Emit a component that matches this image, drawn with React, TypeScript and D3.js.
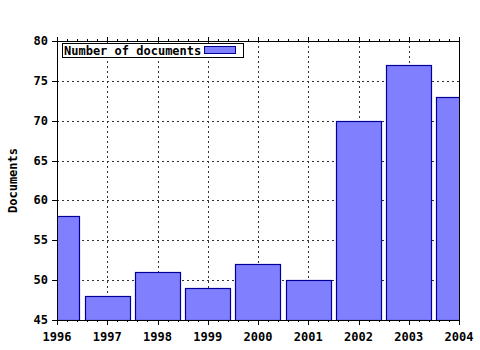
import React from "react";
import * as d3 from "d3";

const years = [1996, 1997, 1998, 1999, 2000, 2001, 2002, 2003, 2004];
const documents = [58, 48, 51, 49, 52, 50, 70, 77, 73];
const yTicks = [45, 50, 55, 60, 65, 70, 75, 80];
const seriesName = "Number of documents";
const yTitle = "Documents";

export default function App() {
  const W = 480, H = 350;
  const L = 57, R = 459, T = 41, B = 320;
  const x = d3.scaleLinear().domain([1996, 2004]).range([L, R]);
  const y = d3.scaleLinear().domain([45, 80]).range([B, T]);
  const step = x(1997) - x(1996);
  const bw = step * 0.9;
  const font = "'DejaVu Sans Mono', monospace";
  const minor: number[] = [];
  for (let i = 0; i < years.length - 1; i++) {
    for (let k = 1; k < 5; k++) minor.push(years[i] + k / 5);
  }
  return (
    <svg width={W} height={H} style={{ position: "absolute", left: 0, top: 0, background: "#fff" }}>
      <defs>
        <clipPath id="plot">
          <rect x={L} y={T} width={R - L} height={B - T} />
        </clipPath>
      </defs>
      <rect width={W} height={H} fill="#fff" />
      {/* grid */}
      {yTicks.slice(1, -1).map((v) => (
        <line key={"gy" + v} x1={L} x2={R} y1={Math.round(y(v)) + 0.5} y2={Math.round(y(v)) + 0.5}
          stroke="#333" strokeDasharray="2,3" />
      ))}
      {years.slice(1, -1).map((v) => (
        <line key={"gx" + v} x1={Math.round(x(v)) + 0.5} x2={Math.round(x(v)) + 0.5} y1={T} y2={B}
          stroke="#333" strokeDasharray="2,3" />
      ))}
      {/* bars */}
      <g clipPath="url(#plot)">
        {years.map((yr, i) => (
          <rect key={yr} x={Math.round(x(yr) - bw / 2) + 0.5} y={Math.round(y(documents[i])) + 0.5}
            width={Math.round(bw)} height={B - Math.round(y(documents[i]))}
            fill="#8080ff" stroke="#000099" strokeWidth={1.2} />
        ))}
      </g>
      {/* frame */}
      <rect x={L + 0.5} y={T + 0.5} width={R - L} height={B - T} fill="none" stroke="#000" />
      {/* x ticks */}
      {years.map((v) => (
        <g key={"tx" + v}>
          <line x1={Math.round(x(v)) + 0.5} x2={Math.round(x(v)) + 0.5} y1={B} y2={B + 5} stroke="#000" />
          <line x1={Math.round(x(v)) + 0.5} x2={Math.round(x(v)) + 0.5} y1={T} y2={T - 4} stroke="#000" />
          <text x={x(v)} y={B + 21} textAnchor="middle" fontFamily={font} fontWeight="bold" fontSize={12}>{v}</text>
        </g>
      ))}
      {minor.map((v, i) => (
        <g key={"mx" + i}>
          <line x1={Math.round(x(v)) + 0.5} x2={Math.round(x(v)) + 0.5} y1={B} y2={B + 2} stroke="#000" />
          <line x1={Math.round(x(v)) + 0.5} x2={Math.round(x(v)) + 0.5} y1={T} y2={T - 2} stroke="#000" />
        </g>
      ))}
      {/* y ticks */}
      {yTicks.map((v) => (
        <g key={"ty" + v}>
          <line x1={L - 5} x2={L} y1={Math.round(y(v)) + 0.5} y2={Math.round(y(v)) + 0.5} stroke="#000" />
          <text x={L - 9} y={y(v) + 4} textAnchor="end" fontFamily={font} fontWeight="bold" fontSize={12}>{v}</text>
        </g>
      ))}
      <text transform={`translate(17,${(T + B) / 2}) rotate(-90)`} textAnchor="middle"
        fontFamily={font} fontWeight="bold" fontSize={12}>{yTitle}</text>
      {/* legend */}
      <rect x={62.5} y={43.5} width={181} height={14} fill="#fff" stroke="#000" />
      <text x={64} y={54.5} fontFamily={font} fontWeight="bold" fontSize={12}>{seriesName}</text>
      <rect x={204.5} y={46.5} width={31} height={7} fill="#8080ff" stroke="#000099" />
    </svg>
  );
}
